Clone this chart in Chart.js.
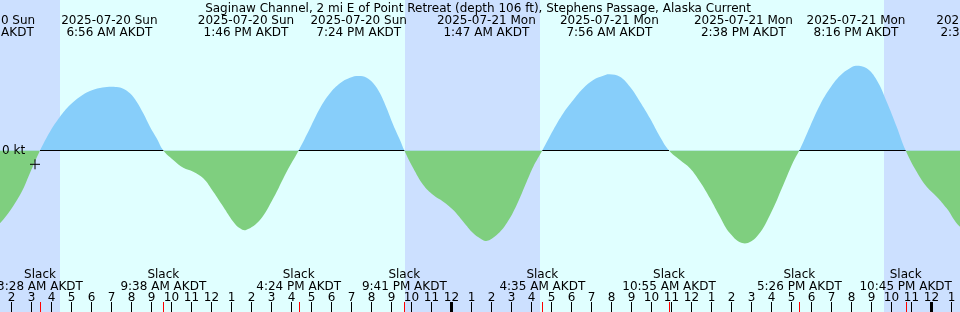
<!DOCTYPE html>
<html>
<head>
<meta charset="utf-8">
<script src="https://cdn.jsdelivr.net/npm/chart.js@4.4.1/dist/chart.umd.min.js"></script>
<style>
  html, body { margin: 0; padding: 0; background: #e0ffff; }
  #wrap { width: 960px; height: 312px; position: relative; }
</style>
</head>
<body>
<div id="wrap"><canvas id="tideChart"></canvas></div>
<script>
// --- 1. DATA (hours counted from 2025-07-20 00:00 AKDT) ---
const title = 'Saginaw Channel, 2 mi E of Point Retreat (depth 106 ft), Stephens Passage, Alaska Current';

const curveHours = [
  0.82, 1.465, 2.465, 2.965, 3.467, 3.965, 4.465, 4.965, 5.465, 5.965, 6.465, 6.933, 7.30, 7.63,
  7.965, 8.30, 8.63, 8.965, 9.30, 9.633, 10.13, 10.63, 11.13, 11.63, 12.13, 12.63, 13.13, 13.465,
  13.767, 14.465, 15.13, 15.80, 16.40, 16.965, 17.465, 17.965, 18.465, 18.965, 19.40, 19.80, 20.13,
  20.465, 20.80, 21.13, 21.465, 21.683, 22.13, 22.63, 23.13, 23.63, 24.13, 24.63, 25.13, 25.465,
  25.783, 26.30, 26.80, 27.30, 27.80, 28.13, 28.583, 29.13, 29.63, 30.13, 30.63, 31.13, 31.63,
  31.933, 32.465, 32.965, 33.465, 33.965, 34.465, 34.917, 35.465, 35.965, 36.465, 36.965, 37.465,
  37.965, 38.633, 39.30, 39.965, 40.63, 41.13, 41.433, 41.965, 42.465, 42.965, 43.465, 43.965,
  44.267, 44.80, 45.30, 45.80, 46.30, 46.75, 47.30, 47.80, 48.30, 48.80, 49.465, 50.633
];
const curveKnots = [
  -0.405, -0.364, -0.2225, -0.1125, 0, 0.094, 0.169, 0.2275, 0.269, 0.2975, 0.3125, 0.319, 0.317, 0.309,
  0.286, 0.244, 0.186, 0.119, 0.061, 0, -0.0475, -0.086, -0.106, -0.139, -0.206, -0.281, -0.356, -0.389,
  -0.3975, -0.3475, -0.239, -0.106, 0, 0.111, 0.211, 0.286, 0.336, 0.364, 0.3725, 0.364, 0.336,
  0.286, 0.211, 0.1275, 0.0525, 0, -0.089, -0.1725, -0.2225, -0.256, -0.2975, -0.356, -0.414, -0.439,
  -0.4525, -0.4225, -0.364, -0.2725, -0.156, -0.081, 0, 0.1025, 0.186, 0.2525, 0.311, 0.3525, 0.374,
  0.381, 0.369, 0.319, 0.244, 0.161, 0.069, 0, -0.0475, -0.089, -0.156, -0.239, -0.331,
  -0.414, -0.464, -0.431, -0.3225, -0.1725, -0.056, 0, 0.119, 0.2275, 0.311, 0.374, 0.411,
  0.424, 0.411, 0.3525, 0.244, 0.119, 0, -0.106, -0.181, -0.231, -0.289, -0.381, -0.455
];

const extremaTimes = [
  '2025-07-20 00:49', '2025-07-20 06:56', '2025-07-20 13:46', '2025-07-20 19:24', '2025-07-21 01:47',
  '2025-07-21 07:56', '2025-07-21 14:38', '2025-07-21 20:16', '2025-07-22 02:38'
];
const slackTimes = [
  '2025-07-20 03:28', '2025-07-20 09:38', '2025-07-20 16:24', '2025-07-20 21:41',
  '2025-07-21 04:35', '2025-07-21 10:55', '2025-07-21 17:26', '2025-07-21 22:45'
];
const sunriseTimes = ['2025-07-20 04:28', '2025-07-21 04:28'];
const sunsetTimes = ['2025-07-20 21:43', '2025-07-21 21:40'];
const markTime = '2025-07-20 03:13';
const markKnots = -0.069;

const weekdays = ['Sun', 'Mon', 'Tue'];
const xMin = 1 + 28 / 60;
const xMax = xMin + 48;

// --- 2. HELPERS ---
function toHours(s) {
  const day = parseInt(s.slice(8, 10), 10) - 20;
  const hh = parseInt(s.slice(11, 13), 10);
  const mm = parseInt(s.slice(14, 16), 10);
  return day * 24 + hh + mm / 60;
}
function fmtDate(s) {
  const day = parseInt(s.slice(8, 10), 10) - 20;
  return s.slice(0, 10) + ' ' + weekdays[day];
}
function fmtTime(s) {
  let hh = parseInt(s.slice(11, 13), 10);
  const ampm = hh < 12 ? 'AM' : 'PM';
  hh = hh % 12 === 0 ? 12 : hh % 12;
  return hh + ':' + s.slice(14, 16) + ' ' + ampm + ' AKDT';
}

const curve = curveHours.map((h, i) => ({ x: h, y: curveKnots[i] }));

// zero line only under the flood parts
const slackHours = slackTimes.map(toHours);
const zeroLine = [];
for (let i = 0; i + 1 < slackHours.length; i += 2) {
  zeroLine.push({ x: slackHours[i], y: 0 }, { x: slackHours[i + 1], y: 0 });
  zeroLine.push({ x: slackHours[i + 1] + 0.01, y: null });
}

const FONT = '12px "DejaVu Sans"';

// --- 3. PLUGINS ---
const backdrop = {
  id: 'backdrop',
  beforeDatasetsDraw(chart) {
    const { ctx, scales: { x }, width, height } = chart;
    ctx.save();
    ctx.fillStyle = '#e0ffff';
    ctx.fillRect(0, 0, width, height);
    ctx.fillStyle = '#cce0ff';
    const sets = sunsetTimes.map(toHours);
    const rises = sunriseTimes.map(toHours);
    // night before first sunrise
    let bands = [[xMin - 1, rises[0]]];
    for (let i = 0; i < sets.length; i++) {
      bands.push([sets[i], rises[i + 1] !== undefined ? rises[i + 1] : xMax + 1]);
    }
    bands.forEach(([a, b]) => {
      const pa = Math.round(x.getPixelForValue(a));
      const pb = Math.round(x.getPixelForValue(b));
      ctx.fillRect(pa, 0, pb - pa, height);
    });
    ctx.restore();
  }
};

const labels = {
  id: 'labels',
  afterDatasetsDraw(chart) {
    const { ctx, scales: { x, y }, width, height } = chart;
    ctx.save();
    ctx.font = FONT;
    ctx.fillStyle = '#000';
    ctx.textBaseline = 'alphabetic';
    ctx.textAlign = 'center';
    ctx.fillText(title, width / 2 - 2, 12);

    extremaTimes.forEach(s => {
      const px = x.getPixelForValue(toHours(s));
      ctx.fillText(fmtDate(s), px, 24);
      ctx.fillText(fmtTime(s), px, 36);
    });

    slackTimes.forEach(s => {
      const px = x.getPixelForValue(toHours(s));
      ctx.fillText('Slack', px, 278);
      ctx.fillText(fmtTime(s), px, 290);
    });

    // hour ticks
    for (let h = Math.ceil(xMin); h <= Math.floor(xMax); h++) {
      const px = Math.round(x.getPixelForValue(h));
      const hr = h % 12 === 0 ? 12 : h % 12;
      ctx.fillStyle = '#000';
      ctx.fillText(String(hr), px + 0.5, 301);
      if (h % 24 === 0) ctx.fillRect(px - 1, 302, 3, height - 302);
      else ctx.fillRect(px, 302, 1, height - 302);
    }
    ctx.fillStyle = '#ff0000';
    slackHours.forEach(h => {
      const px = Math.round(x.getPixelForValue(h));
      ctx.fillRect(px, 302, 1, height - 302);
    });

    ctx.fillStyle = '#000';
    ctx.textAlign = 'left';
    ctx.textBaseline = 'middle';
    ctx.fillText('0 kt', 2, y.getPixelForValue(0));
    ctx.restore();
  }
};

// --- 4. CHART ---
const ctx = document.getElementById('tideChart').getContext('2d');
new Chart(ctx, {
  type: 'line',
  data: {
    datasets: [
      {
        label: 'Zero',
        data: zeroLine,
        borderColor: '#000',
        borderWidth: 1,
        pointRadius: 0,
        fill: false,
        spanGaps: false,
        order: 1
      },
      {
        label: 'Current',
        data: curve,
        borderWidth: 0,
        borderColor: 'rgba(0,0,0,0)',
        pointRadius: 0,
        tension: 0.4,
        fill: { target: 'origin', above: '#87cefa', below: '#7fcf7f' },
        order: 2
      },
      {
        label: 'Mark',
        data: [{ x: toHours(markTime), y: markKnots }],
        pointStyle: 'cross',
        pointRadius: 5,
        borderColor: '#000',
        borderWidth: 1,
        showLine: false,
        order: 0
      }
    ]
  },
  options: {
    responsive: true,
    maintainAspectRatio: false,
    animation: false,
    layout: { padding: 0, autoPadding: false },
    scales: {
      x: { type: 'linear', min: xMin, max: xMax, display: false },
      y: { min: -0.8075, max: 0.7525, display: false }
    },
    plugins: { legend: { display: false }, tooltip: { enabled: false } }
  },
  plugins: [backdrop, labels]
});
</script>
</body>
</html>
